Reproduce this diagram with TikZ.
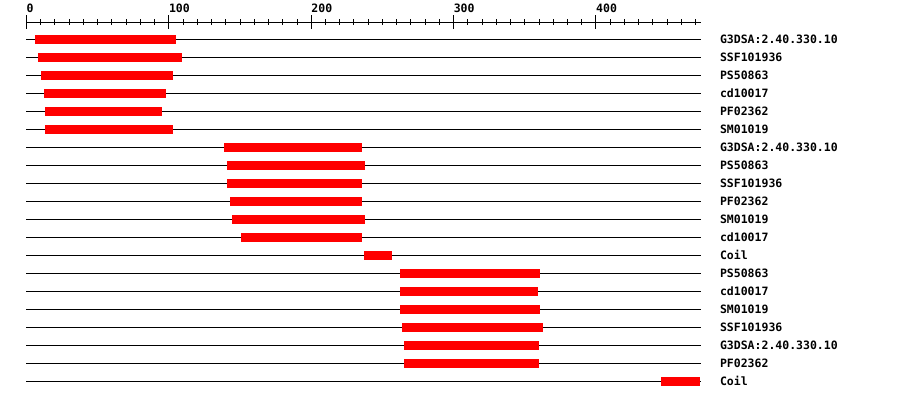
\documentclass[tikz,border=0pt]{standalone}
\usepackage{fontspec}
\setmonofont{DejaVu Sans Mono}
\usetikzlibrary{positioning}

\begin{document}
\begin{tikzpicture}[
  x=1.4237pt, y=-1pt,
  track/.style={line width=1pt},
  hit/.style={fill=red, draw=none},
  lbl/.style={font=\ttfamily\bfseries\fontsize{11.5}{12}\selectfont, inner sep=0pt, text height=8.4pt, text depth=0pt},
  num/.style={lbl, anchor=base west}
]
  \useasboundingbox (-26.5pt,0pt) rectangle (873.5pt,-400pt);

  % scale
  \coordinate (a0) at (0,22);
  \coordinate (a1) at (474,22);
  \draw[track] (a0) -- (a1);
  \foreach \t in {0,10,...,470} \draw[track] (\t,19) -- (\t,25);
  \foreach \t in {0,100,...,400} {
    \draw[track] (\t,15) -- (\t,29);
    \node[num] (n\t) at (\t,12) {\t};
  }

  % matches
  \foreach \name/\from/\to [count=\i] in {
      G3DSA:2.40.330.10/6/105, SSF101936/8/109, PS50863/10/103,
      cd10017/12/98, PF02362/13/95, SM01019/13/103,
      G3DSA:2.40.330.10/139/236, PS50863/141/238, SSF101936/141/236,
      PF02362/143/236, SM01019/144/238, cd10017/151/236, Coil/237/257,
      PS50863/262/361, cd10017/262/359, SM01019/262/361, SSF101936/264/363,
      G3DSA:2.40.330.10/265/360, PF02362/265/360, Coil/446/473} {
    \pgfmathsetmacro\ry{21.5+18*\i}
    \coordinate (s\i) at (0,\ry);
    \coordinate (e\i) at (474,\ry);
    \draw[track] (s\i) -- (e\i);
    \fill[hit] (\from,\ry-4.5) rectangle (\to,\ry+4.5);
    \node[lbl, right=18.5pt of e\i] (lbl\i) {\name};
  }
\end{tikzpicture}
\end{document}
